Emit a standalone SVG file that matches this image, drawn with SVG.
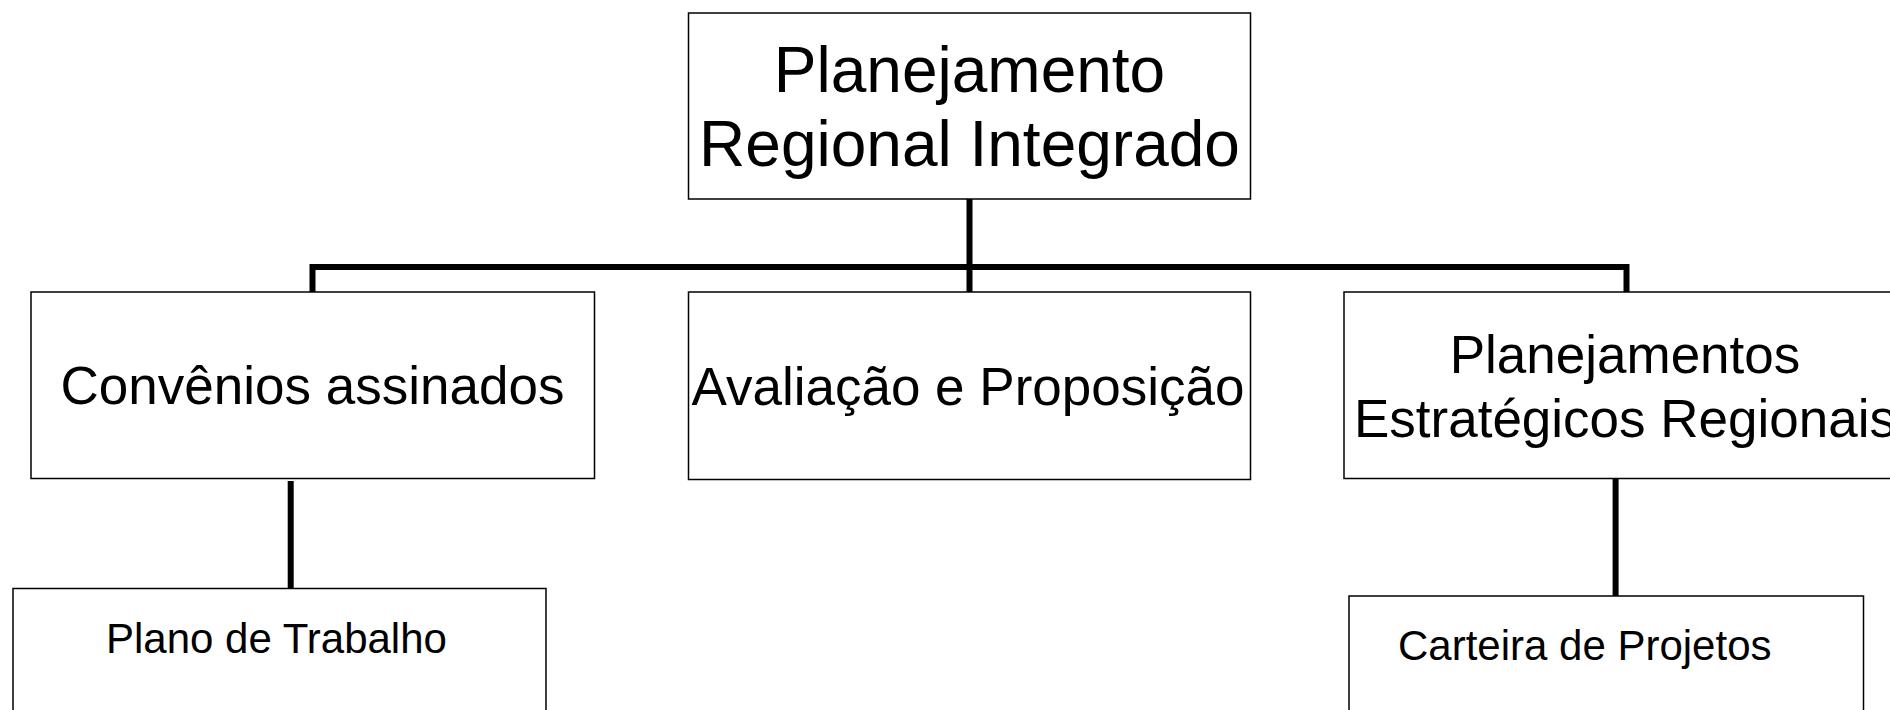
<svg xmlns="http://www.w3.org/2000/svg" width="1890" height="710" viewBox="0 0 1890 710">
<style>
.box{fill:#fff;stroke:#000;stroke-width:1.5}
.conn{fill:none;stroke:#000;stroke-width:6}
text{font-family:"Liberation Sans",Arial,sans-serif;fill:#000}
.big{font-size:64px;text-anchor:middle}
.mid{font-size:53px;text-anchor:middle}
.small{font-size:42px}
</style>
<rect width="1890" height="710" fill="#fff"/>
<g id="connectors">
<path class="conn" d="M969.5,199 V292"/>
<path class="conn" d="M312.5,292 V267 H1626.5 V292"/>
<path class="conn" d="M290.7,481 V593"/>
<path class="conn" d="M1615.6,474 V596"/>
</g>
<g id="node-top">
<rect class="box" x="688.5" y="13" width="562" height="186"/>
<text class="big" x="969.5" y="92">Planejamento</text>
<text class="big" x="969.5" y="166">Regional Integrado</text>
</g>
<g id="node-convenios">
<rect class="box" x="31" y="292" width="563.5" height="186.5"/>
<text class="mid" x="312.5" y="404">Convênios assinados</text>
</g>
<g id="node-avaliacao">
<rect class="box" x="688.5" y="292" width="562" height="187.5"/>
<text class="mid" x="968" y="405">Avaliação e Proposição</text>
</g>
<g id="node-planejamentos">
<rect class="box" x="1344" y="292" width="562" height="186.5"/>
<text class="mid" x="1625" y="373">Planejamentos</text>
<text class="mid" x="1625" y="437">Estratégicos Regionais</text>
</g>
<g id="node-plano">
<rect class="box" x="13" y="588.5" width="533" height="140"/>
<text class="small" x="106" y="653">Plano de Trabalho</text>
</g>
<g id="node-carteira">
<rect class="box" x="1349" y="596" width="514.5" height="140"/>
<text class="small" x="1398" y="660">Carteira de Projetos</text>
</g>
</svg>
